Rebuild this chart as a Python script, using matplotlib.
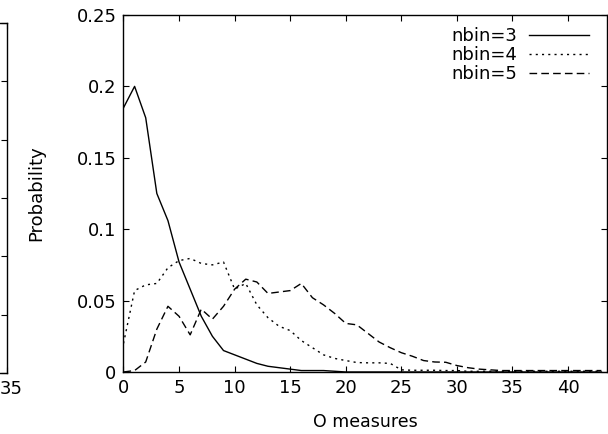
import numpy as np
import matplotlib
matplotlib.use("Agg")
import matplotlib.pyplot as plt
import matplotlib.transforms as mtransforms

# Omega measures (x) and probabilities
omega = list(range(0, 44))

nbin3 = [0.185, 0.200, 0.178, 0.125, 0.106, 0.077, 0.058, 0.039, 0.025, 0.015,
         0.012, 0.009, 0.006, 0.004, 0.003, 0.002, 0.001, 0.001, 0.001, 0.0005,
         0, 0, 0, 0, 0, 0, 0, 0, 0, 0,
         0, 0, 0, 0, 0, 0, 0, 0, 0, 0,
         0, 0, 0, 0]

nbin4 = [0.020, 0.057, 0.061, 0.062, 0.073, 0.078, 0.0795, 0.076, 0.075, 0.077,
         0.058, 0.062, 0.047, 0.038, 0.032, 0.029, 0.022, 0.017, 0.012, 0.0095,
         0.008, 0.0066, 0.0064, 0.0064, 0.006, 0.0015, 0.0012, 0.0012, 0.0012, 0.001,
         0.001, 0.0005, 0.0005, 0.0005, 0.0005, 0.0005, 0.0005, 0.0005, 0.0005, 0.0005,
         0.0005, 0.0005, 0.0005, 0.0005]

nbin5 = [0.0, 0.001, 0.007, 0.030, 0.046, 0.039, 0.026, 0.044, 0.037, 0.046,
         0.058, 0.065, 0.063, 0.055, 0.056, 0.057, 0.062, 0.052, 0.047, 0.041,
         0.034, 0.033, 0.027, 0.021, 0.017, 0.0135, 0.011, 0.008, 0.007, 0.0068,
         0.0045, 0.003, 0.002, 0.0015, 0.001, 0.001, 0.001, 0.001, 0.001, 0.001,
         0.001, 0.001, 0.001, 0.001]

xticks = [0, 5, 10, 15, 20, 25, 30, 35, 40]
yticks = [0, 0.05, 0.1, 0.15, 0.2, 0.25]
ytick_labels = ["0", "0.05", "0.1", "0.15", "0.2", "0.25"]

plt.rcParams['font.family'] = ['DejaVu Sans']
plt.rcParams['font.size'] = 13

fig = plt.figure(figsize=(6.08, 4.34), dpi=100)

# cropped neighbouring panel on the left edge
ax0 = fig.add_axes([0.0123 - 0.4, 0.1406, 0.4, 0.806])
ax0.set_xlim(20, 35)
ax0.set_xticks([35])
ax0.set_ylim(0, 0.3)
ax0.set_yticks([0, 0.05, 0.1, 0.15, 0.2, 0.25, 0.3])
ax0.set_yticklabels([])
ax0.tick_params(direction="in", length=4.3, width=0.8, right=True, top=True,
                labelsize=13, pad=5)
for s in ax0.spines.values():
    s.set_linewidth(1.0)
# shift the "35" label right so it stays inside the picture
shift = mtransforms.ScaledTranslation(0.04, 0, fig.dpi_scale_trans)
for lab in ax0.get_xticklabels():
    lab.set_transform(lab.get_transform() + shift)

# main panel
ax = fig.add_axes([0.2031, 0.1429, 0.7952, 0.8226])
ax.plot(omega, nbin3, color="black", lw=1.0, label="nbin=3")
ax.plot(omega, nbin4, color="black", lw=1.0, dashes=(1.5, 3.0), label="nbin=4")
ax.plot(omega, nbin5, color="black", lw=1.0, dashes=(5.5, 3.0), label="nbin=5")

ax.set_xlim(0, 43.5)
ax.set_ylim(0, 0.25)
ax.set_xticks(xticks)
ax.set_yticks(yticks)
ax.set_yticklabels(ytick_labels)
ax.tick_params(direction="in", length=4.3, width=0.8, right=True, top=True,
               labelsize=13, pad=5)
for s in ax.spines.values():
    s.set_linewidth(1.0)

ax.set_xlabel("O measures", fontsize=12.5)
ax.xaxis.set_label_coords(0.5, -0.115)
ax.set_ylabel("Probability", fontsize=13)
ax.yaxis.set_label_coords(-0.162, 0.5)

ax.legend(loc="upper right", bbox_to_anchor=(0.963, 0.966), frameon=False,
          markerfirst=False, handlelength=3.3, handletextpad=0.67,
          labelspacing=0.05, borderpad=0, borderaxespad=0, fontsize=13)

fig.savefig("out.png", dpi=100)
